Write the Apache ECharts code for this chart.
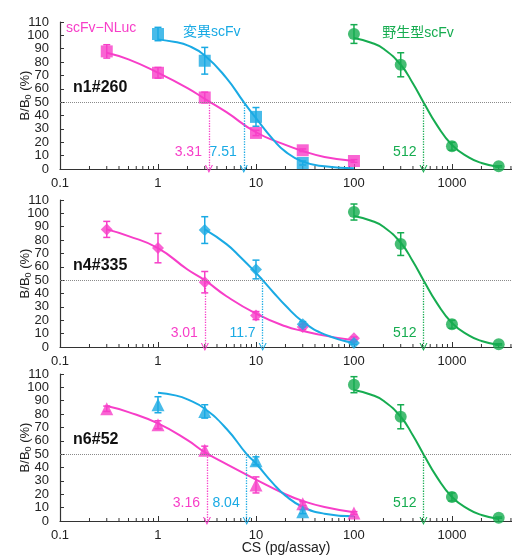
<!DOCTYPE html>
<html>
<head>
<meta charset="utf-8">
<script src="https://cdn.jsdelivr.net/npm/echarts@6/dist/echarts.min.js"></script>
<style>
  html, body { margin: 0; padding: 0; background: #fff; }
  #chart { width: 512px; height: 556px; }
</style>
</head>
<body>
<div id="chart"></div>
<script>
// concentrations (pg/assay)
const xNluc = [0.3, 1, 3, 10, 30, 100];
const xMutA = [1, 3, 10, 30];
const xMutB = [3, 10, 30, 100];
const xWild = [100, 300, 1000, 3000];

const panelNames = ['n1#260', 'n4#335', 'n6#52'];
const ic50Nluc = [3.31, 3.01, 3.16];
const ic50Mut = [7.51, 11.7, 8.04];
const ic50Wild = [512, 512, 512];
const icLabelY = [12.5, 10, 13];

// measured points (B/B0 %) and error bars
const nlucY = [[88, 72, 53.5, 27, 14, 6], [88, 74, 48.5, 23.5, 15, 6.5], [84, 72, 53, 27, 13, 6]];
const nlucErr = [[5, 4, 4, 2, 1, 1], [6, 11, 8, 3, 2, 1], [2, 3, 3, 6, 1.5, 1]];
const mutX = [xMutA, xMutB, xMutA];
const mutY = [[101, 81, 39, 4.5], [87.5, 58, 17, 3], [87, 82, 45, 7]];
const mutErr = [[5, 10, 7, 1.5], [10, 7, 2, 1], [6, 5, 3, 1.5]];
const wildY = [[101, 78, 17, 2], [101, 77, 17, 2], [102, 78, 18, 2.5]];
const wildErr = [[7, 9, 3, 0.5], [6, 8.5, 3, 0.5], [6, 9, 3, 0.5]];

// fitted curves
const nlucCurveX = [0.3, 0.5, 1, 2, 3, 5, 10, 20, 30, 50, 100];
const nlucCurveY = [
  [87, 82, 72, 60.5, 52.5, 42.5, 27.5, 18, 13.5, 9, 6],
  [88, 83, 74, 58, 50, 38, 25, 15.5, 12, 8.5, 5],
  [86, 81.5, 73, 60.5, 51.5, 42.5, 31, 20, 15, 10.5, 6.5]
];
const mutCurveX = [
  [1, 1.5, 2, 3, 5, 7.51, 10, 15, 20, 30, 50, 100],
  [3, 5, 7, 10, 11.7, 15, 20, 30, 50, 100],
  [1, 1.5, 2, 3, 5, 8.04, 10, 15, 20, 30, 50, 100]
];
const mutCurveY = [
  [97, 95, 92.5, 85, 68, 50, 38, 22, 13, 5.5, 2, 0.5],
  [88, 77, 67, 55.5, 50, 41, 31, 19, 9.5, 3],
  [96, 94, 91, 84, 69, 50, 43, 28, 19, 10.5, 5.5, 3.5]
];
const wildCurveX = [100, 150, 200, 300, 400, 512, 700, 1000, 1500, 2000, 3000];
const wildCurveY = [98, 94.5, 90, 78, 64, 50, 33, 18, 8.5, 4.5, 1.5];

const minorTicks = [0.2, 0.3, 0.4, 0.5, 0.6, 0.7, 0.8, 0.9,
  2, 3, 4, 5, 6, 7, 8, 9, 20, 30, 40, 50, 60, 70, 80, 90,
  200, 300, 400, 500, 600, 700, 800, 900, 2000, 3000, 4000];
const yTicks = [0, 10, 20, 30, 40, 50, 60, 70, 80, 90, 100, 110];

const FONT = '"Liberation Sans", Arial, "Noto Sans CJK JP", sans-serif';
const PINK = '#F73EC8', CYAN = '#1AAAE4', GREEN = '#16AC50', AXIS = '#333';
const shapes = ['rect', 'diamond', 'triangle'];
const shapeSize = [12, 12, 13];
const chevron = 'path://M0,10 L5,0 L10,10 L8.6,10 L5,2.8 L1.4,10 Z';

const grids = [
  { left: 60, right: 0, top: 22, height: 147, outerBoundsMode: 'none', containLabel: false },
  { left: 60, right: 0, top: 200, height: 147, outerBoundsMode: 'none', containLabel: false },
  { left: 60, right: 0, top: 374, height: 147, outerBoundsMode: 'none', containLabel: false }
];

const zip = (xs, ys) => xs.map((x, i) => [x, ys[i]]);
const zip3 = (xs, ys, es) => xs.map((x, i) => [x, ys[i], es[i]]);

function errorBars(p, data, color) {
  return {
    type: 'custom', xAxisIndex: p, yAxisIndex: p, silent: true, z: 3,
    data: data,
    renderItem: function (params, api) {
      const x = api.value(0), y = api.value(1), e = api.value(2);
      const t = api.coord([x, y + e]), b = api.coord([x, Math.max(y - e, 0.01)]);
      const st = { stroke: color, lineWidth: 1.5 };
      return {
        type: 'group', children: [
          { type: 'line', shape: { x1: t[0], y1: t[1], x2: b[0], y2: b[1] }, style: st },
          { type: 'line', shape: { x1: t[0] - 3.5, y1: t[1], x2: t[0] + 3.5, y2: t[1] }, style: st },
          { type: 'line', shape: { x1: b[0] - 3.5, y1: b[1], x2: b[0] + 3.5, y2: b[1] }, style: st }
        ]
      };
    }
  };
}

function curve(p, data, color, ic) {
  return {
    type: 'line', xAxisIndex: p, yAxisIndex: p, data: data, smooth: true,
    showSymbol: false, silent: true, z: 2,
    lineStyle: { color: color, width: 2 },
    markLine: {
      silent: true, symbol: ['none', chevron], symbolSize: [8, 8],
      label: { show: false },
      lineStyle: { type: 'dotted', color: color, width: 1.3 },
      data: [[{ coord: [ic, 50] }, { coord: [ic, 0] }]]
    }
  };
}

// text anchored at a data coordinate; dx shifts it in pixels
function textPoint(coord, text, color, align, dx, style) {
  return {
    coord: coord, symbol: 'circle', symbolSize: 0,
    itemStyle: { color: 'transparent' },
    label: Object.assign({
      show: true, position: [dx, 0], align: align, verticalAlign: 'middle',
      formatter: text, color: color, fontSize: 14, fontFamily: FONT
    }, style || {})
  };
}

function markers(p, data, color, shape, size, ic) {
  return {
    type: 'scatter', xAxisIndex: p, yAxisIndex: p, data: data, z: 4,
    symbol: shape, symbolSize: size, silent: true,
    itemStyle: { color: color },
    markPoint: {
      silent: true,
      data: [textPoint([ic, icLabelY[p]], String(ic), color, 'right', -7)]
    }
  };
}

const series = [];
const xAxes = [], yAxes = [];

for (let p = 0; p < 3; p++) {
  xAxes.push({
    type: 'log', logBase: 10, gridIndex: p, min: 0.1, max: 4100,
    axisLine: { lineStyle: { color: AXIS, width: 1.2 } },
    axisTick: { inside: true, length: 5, lineStyle: { color: AXIS } },
    axisLabel: {
      fontSize: 13, color: '#222', fontFamily: FONT, margin: 8, showMaxLabel: false,
      formatter: v => String(+(+v).toPrecision(6))
    },
    splitLine: { show: false },
    name: p === 2 ? 'CS (pg/assay)' : '',
    nameLocation: 'middle', nameGap: 20, nameMoveOverlap: false,
    nameTextStyle: { fontSize: 14, color: '#222', fontFamily: FONT, verticalAlign: 'top' }
  });
  yAxes.push({
    type: 'value', gridIndex: p, min: yTicks[0], max: yTicks[yTicks.length - 1], interval: 10,
    axisLine: { show: true, lineStyle: { color: AXIS, width: 1.2 } },
    axisTick: { show: true, inside: true, length: 4, lineStyle: { color: AXIS } },
    axisLabel: {
      fontSize: 13, color: '#222', fontFamily: FONT, margin: 11,
      showMinLabel: true, showMaxLabel: true, hideOverlap: false
    },
    splitLine: { show: false },
    name: '{a|B/B}{s|0}{a| (%)}', nameLocation: 'middle', nameGap: 27,
    nameMoveOverlap: false,
    nameTextStyle: {
      color: '#222', fontFamily: FONT,
      rich: {
        a: { fontSize: 13, color: '#222', fontFamily: FONT },
        s: { fontSize: 9, color: '#222', fontFamily: FONT, padding: [7, 0, 0, 0] }
      }
    }
  });

  // minor log ticks + 50% reference line + panel texts
  const texts = [textPoint([0.136, 61], panelNames[p], '#111', 'left', 0,
    { fontSize: 16, fontWeight: 'bold' })];
  if (p === 0) {
    texts.push(textPoint([0.115, 105.5], 'scFv\u2212NLuc', PINK, 'left', 0));
    texts.push(textPoint([1.8, 102.5], '変異scFv', CYAN, 'left', 0));
    texts.push(textPoint([194, 102], '野生型scFv', GREEN, 'left', 0));
  }
  series.push({
    type: 'custom', xAxisIndex: p, yAxisIndex: p, silent: true, z: 1,
    data: minorTicks.map(v => [v, 0]),
    renderItem: function (params, api) {
      const pt = api.coord([api.value(0), 0]);
      return {
        type: 'line', shape: { x1: pt[0], y1: pt[1], x2: pt[0], y2: pt[1] - 3 },
        style: { stroke: AXIS, lineWidth: 1 }
      };
    },
    markLine: {
      silent: true, symbol: 'none', label: { show: false },
      lineStyle: { type: 'dotted', color: '#8a8a8a', width: 1 },
      data: [{ yAxis: 50 }]
    },
    markPoint: { silent: true, data: texts }
  });

  series.push(curve(p, zip(nlucCurveX, nlucCurveY[p]), PINK, ic50Nluc[p]));
  series.push(curve(p, zip(mutCurveX[p], mutCurveY[p]), CYAN, ic50Mut[p]));
  series.push(curve(p, zip(wildCurveX, wildCurveY), GREEN, ic50Wild[p]));

  series.push(errorBars(p, zip3(xNluc, nlucY[p], nlucErr[p]), PINK));
  series.push(errorBars(p, zip3(mutX[p], mutY[p], mutErr[p]), CYAN));
  series.push(errorBars(p, zip3(xWild, wildY[p], wildErr[p]), GREEN));

  series.push(markers(p, zip(xNluc, nlucY[p]), PINK, shapes[p], shapeSize[p], ic50Nluc[p]));
  series.push(markers(p, zip(mutX[p], mutY[p]), CYAN, shapes[p], shapeSize[p], ic50Mut[p]));
  series.push(markers(p, zip(xWild, wildY[p]), GREEN, 'circle', 12, ic50Wild[p]));
}

const chart = echarts.init(document.getElementById('chart'), null, { renderer: 'canvas' });
chart.setOption({
  animation: false,
  backgroundColor: '#fff',
  textStyle: { fontFamily: FONT },
  grid: grids,
  xAxis: xAxes,
  yAxis: yAxes,
  series: series
});
window.addEventListener('resize', () => chart.resize());
</script>
</body>
</html>
